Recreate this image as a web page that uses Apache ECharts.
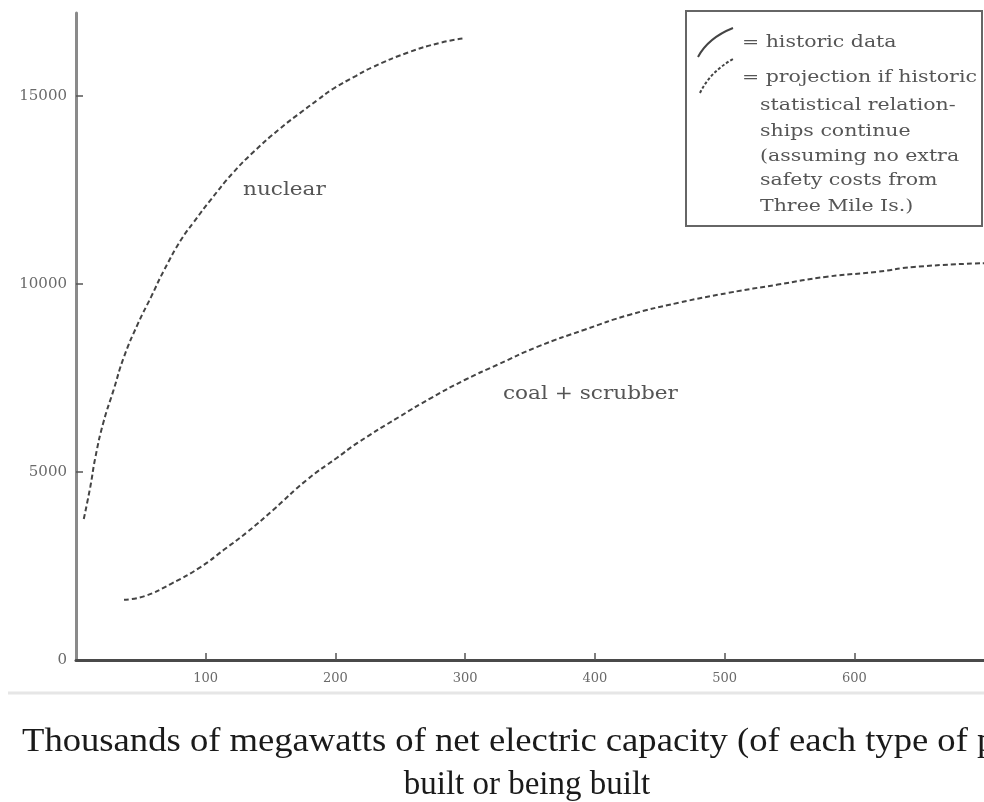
<!DOCTYPE html>
<html>
<head>
<meta charset="utf-8">
<script src="https://cdn.jsdelivr.net/npm/echarts@6/dist/echarts.min.js"></script>
<style>
html,body{margin:0;padding:0;background:#fff;}
#chart{width:984px;height:802px;}
</style>
</head>
<body>
<div id="chart"></div>
<script>
// ---- data ----
const xTickValues = [100, 200, 300, 400, 500, 600];
const yTickValues = [0, 5000, 10000, 15000];

const nuclearX = [6, 11, 15, 21, 29, 37, 48, 58, 68, 81, 91, 104, 121, 137, 157, 175, 186, 198, 216, 228, 256, 281, 298];
const nuclearY = [3750, 4600, 5400, 6300, 7180, 8060, 8960, 9660, 10370, 11170, 11650, 12240, 12950, 13510, 14120, 14600, 14880, 15180, 15530, 15750, 16150, 16410, 16520];

const coalX = [37, 53, 73, 96, 114, 132, 152, 178, 201, 217, 249, 274, 300, 325, 356, 392, 427, 465, 503, 541, 579, 618, 646, 700];
const coalY = [1600, 1700, 2020, 2470, 2930, 3400, 3990, 4790, 5370, 5770, 6460, 6970, 7450, 7850, 8330, 8780, 9180, 9500, 9760, 9980, 10190, 10320, 10450, 10550];

const legendLines = [
  '= historic data',
  '= projection if historic',
  'statistical relation-',
  'ships continue',
  '(assuming no extra',
  'safety costs from',
  'Three Mile Is.)'
];
const titleLine1 = 'Thousands of megawatts of net electric capacity (of each type of plant)';
const titleLine2 = 'built or being built';

// ---- chart ----
const pairs = (xs, ys) => xs.map((x, i) => [x, ys[i]]);
const chart = echarts.init(document.getElementById('chart'), null, {renderer: 'canvas'});

const lineStyle = {color: '#444', width: 2, type: [5, 3]};
const smallFont = 'DejaVu Serif';

const legendYs = [43, 78, 106, 132, 157, 181, 207];
const legendXs = [742, 742, 760, 760, 760, 760, 760];

const graphics = [
  {type: 'line', shape: {x1: 8, y1: 693, x2: 984, y2: 693}, style: {stroke: '#e6e6e6', lineWidth: 3}, silent: true},
  {type: 'rect', shape: {x: 686, y: 11, width: 296, height: 215}, style: {fill: '#fff', stroke: '#666', lineWidth: 2}, z: 10},
  {type: 'bezierCurve', shape: {x1: 698, y1: 57, x2: 733, y2: 28, cpx1: 708, cpy1: 38}, style: {stroke: '#444', lineWidth: 2, fill: null}, z: 11},
  {type: 'bezierCurve', shape: {x1: 700, y1: 93, x2: 733, y2: 59, cpx1: 710, cpy1: 72}, style: {stroke: '#444', lineWidth: 2, fill: null, lineDash: [3, 2]}, z: 11},
  {type: 'text', x: 243, y: 190, scaleX: 1.2, style: {text: 'nuclear', fontFamily: smallFont, fontSize: 18, fill: '#555', verticalAlign: 'middle', align: 'left'}},
  {type: 'text', x: 503, y: 394, scaleX: 1.2, style: {text: 'coal + scrubber', fontFamily: smallFont, fontSize: 18, fill: '#555', verticalAlign: 'middle', align: 'left'}},
  {type: 'text', x: 22, y: 742, scaleX: 1.11, style: {text: titleLine1, fontFamily: 'Liberation Serif', fontSize: 33, fill: '#1a1a1a', verticalAlign: 'middle', align: 'left'}},
  {type: 'text', x: 527, y: 785, style: {text: titleLine2, fontFamily: 'Liberation Serif', fontSize: 33, fill: '#1a1a1a', verticalAlign: 'middle', align: 'center'}}
];
legendLines.forEach((t, i) => {
  graphics.push({type: 'text', x: legendXs[i], y: legendYs[i], scaleX: 1.28, z: 12,
    style: {text: t, fontFamily: smallFont, fontSize: 16, fill: '#555', verticalAlign: 'middle', align: 'left'}});
});

chart.setOption({
  animation: false,
  backgroundColor: '#fff',
  grid: {left: 76, right: -6, top: 13, bottom: 142, containLabel: false},
  xAxis: {
    type: 'value', min: 0, max: 700, interval: 100,
    splitLine: {show: false},
    axisLine: {show: true, onZero: false, lineStyle: {color: '#4a4a4a', width: 3}},
    axisTick: {show: true, inside: true, length: 7, customValues: xTickValues, lineStyle: {color: '#555', width: 1.5}},
    axisLabel: {customValues: xTickValues, fontFamily: smallFont, fontSize: 13, color: '#6a6a6a', margin: 12}
  },
  yAxis: {
    type: 'value', min: 0, max: 17200, interval: 5000,
    splitLine: {show: false},
    axisLine: {show: true, lineStyle: {color: '#8a8a8a', width: 3}},
    axisTick: {show: true, inside: true, length: 7, customValues: [5000, 10000, 15000], lineStyle: {color: '#555', width: 1.5}},
    axisLabel: {customValues: yTickValues, formatter: v => String(v), fontFamily: smallFont, fontSize: 15, color: '#6a6a6a', margin: 9}
  },
  series: [
    {name: 'nuclear', type: 'line', data: pairs(nuclearX, nuclearY), smooth: true, showSymbol: false, lineStyle: lineStyle},
    {name: 'coal + scrubber', type: 'line', data: pairs(coalX, coalY), smooth: true, showSymbol: false, lineStyle: lineStyle}
  ],
  graphic: graphics
});
</script>
</body>
</html>
